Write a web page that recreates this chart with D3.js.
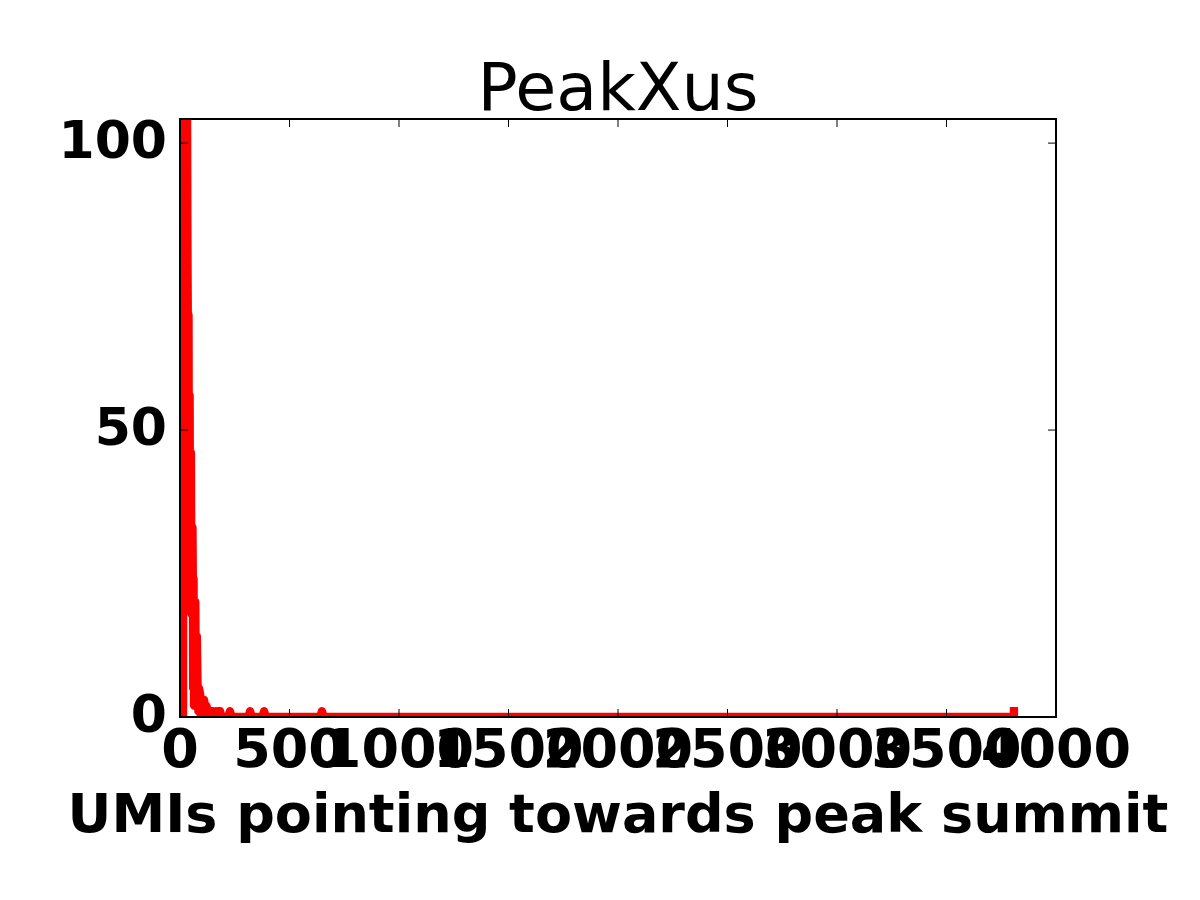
<!DOCTYPE html>
<html>
<head>
<meta charset="utf-8">
<script src="https://cdn.jsdelivr.net/npm/d3@7.9.0/dist/d3.min.js"></script>
<style>
  body { margin: 0; background: #fff; }
  svg { display: block; }
  .tick-label { font-family: 'DejaVu Sans', sans-serif; font-weight: bold; }
</style>
</head>
<body>
<div id="chart"></div>
<script>
// UMIs per peak summit (x) vs number of peaks (y)
const umis = [6, 14, 16, 20, 24, 28, 32, 34, 37, 39, 41, 42, 44, 46, 48, 50, 52, 55, 57, 59,
  60, 62, 64, 68, 70, 72, 77, 80, 84, 87, 92, 95, 100, 110, 115, 120, 128, 135, 140, 150,
  157, 164, 170, 176, 183, 190, 220, 228, 236, 312, 320, 328, 376, 384, 392, 640, 648, 656,
  3808, 3808];
const peaks = [95, 0, 120, 110, 125, 115, 108, 82, 60, 70, 28, 52, 56, 25, 40, 46, 18, 30, 33, 22,
  5, 24, 2, 17, 20, 6, 14, 6, 1, 5, 4, 0, 2, 3, 1, 2, 1, 0, 1, 1,
  0, 1, 0, 1, 1, 0, 0, 1, 0, 0, 1, 0, 0, 1, 0, 0, 1, 0,
  0, 1];

const xTicks = [0, 500, 1000, 1500, 2000, 2500, 3000, 3500, 4000];
const yTicks = [0, 50, 100];

const title = 'PeakXus';
const xLabel = 'UMIs pointing towards peak summit';

const width = 1200;
const height = 900;
const margin = { top: 119, right: 144, bottom: 183, left: 180 };

const svg = d3.select('#chart')
  .append('svg')
  .attr('width', width)
  .attr('height', height);

const xScale = d3.scaleLinear()
  .domain([0, 4000])
  .range([margin.left, width - margin.right]);

const yScale = d3.scaleLinear()
  .domain([0, 104.2])
  .range([height - margin.bottom, margin.top]);

const plotW = width - margin.left - margin.right;
const plotH = height - margin.top - margin.bottom;

svg.append('clipPath')
  .attr('id', 'plot-clip')
  .append('rect')
  .attr('x', margin.left)
  .attr('y', margin.top)
  .attr('width', plotW)
  .attr('height', plotH);

const points = umis.map((u, i) => [u, peaks[i]]);

const line = d3.line()
  .x((d) => xScale(d[0]))
  .y((d) => yScale(d[1]));

svg.append('path')
  .datum(points)
  .attr('clip-path', 'url(#plot-clip)')
  .attr('d', line)
  .attr('fill', 'none')
  .attr('stroke', '#ff0000')
  .attr('stroke-width', 8.3)
  .attr('stroke-linejoin', 'round')
  .attr('stroke-linecap', 'square');

// ticks pointing inward on all four sides
const tickLen = 8;
const bottomY = yScale(0);
const topY = margin.top;
const leftX = margin.left;
const rightX = width - margin.right;

const tickG = svg.append('g')
  .attr('stroke', '#000')
  .attr('stroke-width', 1);

xTicks.forEach((t) => {
  const x = xScale(t);
  tickG.append('line').attr('x1', x).attr('x2', x).attr('y1', bottomY).attr('y2', bottomY - tickLen);
  tickG.append('line').attr('x1', x).attr('x2', x).attr('y1', topY).attr('y2', topY + tickLen);
});

yTicks.forEach((t) => {
  const y = yScale(t);
  tickG.append('line').attr('x1', leftX).attr('x2', leftX + tickLen).attr('y1', y).attr('y2', y);
  tickG.append('line').attr('x1', rightX).attr('x2', rightX - tickLen).attr('y1', y).attr('y2', y);
});

svg.append('rect')
  .attr('x', margin.left)
  .attr('y', margin.top)
  .attr('width', plotW)
  .attr('height', plotH)
  .attr('fill', 'none')
  .attr('stroke', '#000')
  .attr('stroke-width', 2);

svg.append('g')
  .selectAll('text')
  .data(xTicks)
  .join('text')
  .attr('class', 'tick-label')
  .style('font-size', '54px')
  .attr('x', (d) => xScale(d))
  .attr('y', bottomY + 50)
  .attr('text-anchor', 'middle')
  .text((d) => d);

svg.append('g')
  .selectAll('text')
  .data(yTicks)
  .join('text')
  .attr('class', 'tick-label')
  .style('font-size', '52px')
  .attr('x', leftX - 13)
  .attr('y', (d) => yScale(d) + 15)
  .attr('text-anchor', 'end')
  .text((d) => d);

svg.append('text')
  .attr('x', (leftX + rightX) / 2)
  .attr('y', 832)
  .attr('text-anchor', 'middle')
  .style('font-family', "'DejaVu Sans', sans-serif")
  .style('font-weight', 'bold')
  .style('font-size', '54px')
  .text(xLabel);

svg.append('text')
  .attr('x', (leftX + rightX) / 2)
  .attr('y', 110)
  .attr('text-anchor', 'middle')
  .style('font-family', "'DejaVu Sans', sans-serif")
  .style('font-size', '66.7px')
  .text(title);
</script>
</body>
</html>
